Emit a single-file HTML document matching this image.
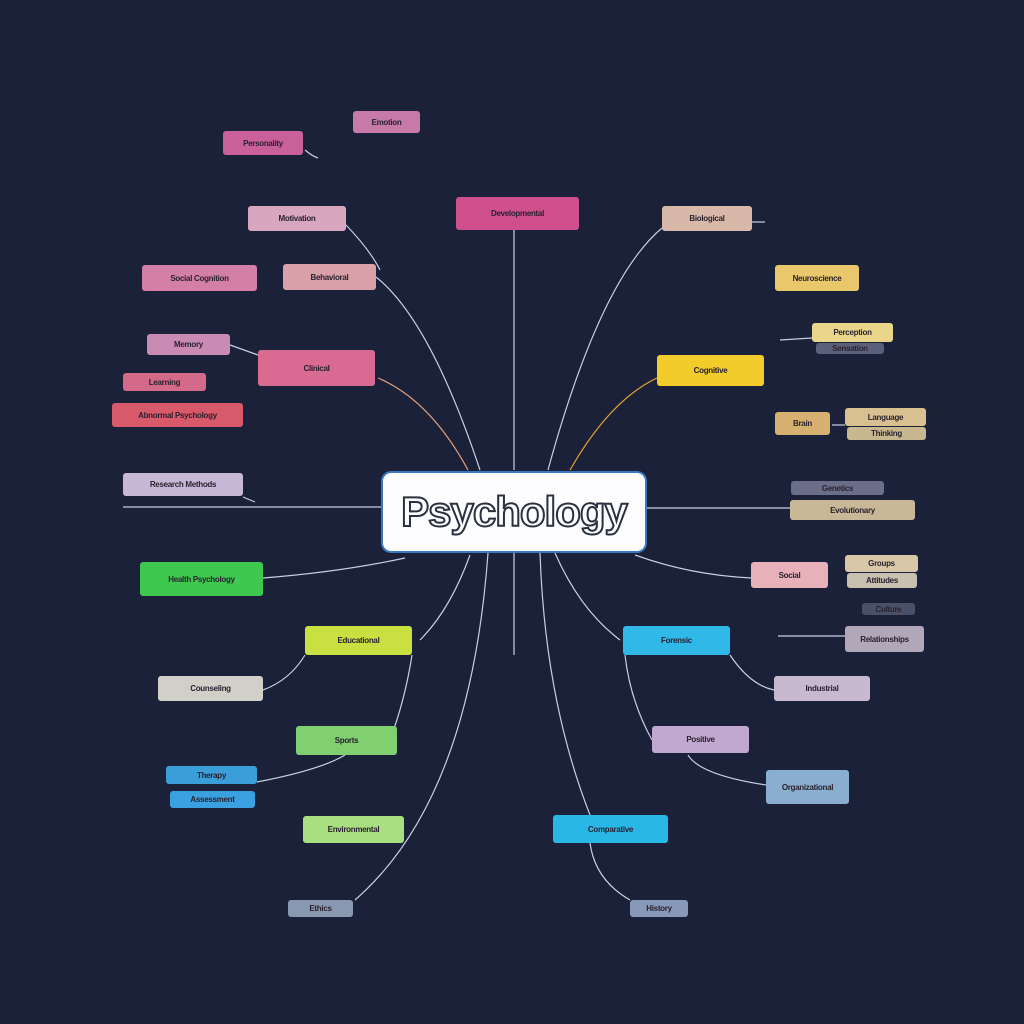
<!DOCTYPE html>
<html><head><meta charset="utf-8"><style>
html,body{margin:0;padding:0;width:1024px;height:1024px;overflow:hidden;background:#1a2139;}
.b{position:absolute;border-radius:3px;font-family:"Liberation Sans",sans-serif;font-size:8px;font-weight:bold;color:#2a2230;display:flex;align-items:center;justify-content:center;white-space:nowrap;overflow:hidden;letter-spacing:-0.3px;}
#c{position:absolute;left:383px;top:473px;width:262px;height:78px;background:#fdfdff;border-radius:8px;box-shadow:0 0 0 2px #3a78c0;display:flex;align-items:center;justify-content:center;font-family:"Liberation Sans",sans-serif;font-size:42px;font-weight:bold;color:#fff;-webkit-text-stroke:2px #2a3040;letter-spacing:-1px;}
svg{position:absolute;left:0;top:0;}
</style></head><body>
<svg width="1024" height="1024" fill="none" stroke="#c8d0e0" stroke-width="1.2">
<path d="M514 470 L514 230"/>
<path d="M480 470 Q430 320 376 277"/>
<path d="M468 470 Q430 400 378 378" stroke="#e0a080"/>
<path d="M570 470 Q610 400 657 378" stroke="#e0a030"/>
<path d="M548 470 Q600 280 662 228"/>
<path d="M346 225 Q370 250 380 270"/>
<path d="M305 150 Q312 156 318 158"/>
<path d="M230 345 L258 355"/>
<path d="M123 507 L383 507"/>
<path d="M243 497 L255 502"/>
<path d="M645 508 L790 508"/>
<path d="M263 578 Q340 572 405 558"/>
<path d="M635 555 Q690 575 751 578"/>
<path d="M420 640 Q450 610 470 555"/>
<path d="M263 690 Q290 680 305 655"/>
<path d="M390 740 Q405 700 412 655"/>
<path d="M257 782 Q320 770 345 755"/>
<path d="M355 900 Q470 800 488 553"/>
<path d="M514 553 L514 655"/>
<path d="M590 815 Q545 700 540 553"/>
<path d="M630 900 Q595 880 590 843"/>
<path d="M652 740 Q630 700 625 655"/>
<path d="M620 640 Q580 610 555 553"/>
<path d="M730 655 Q750 685 774 690"/>
<path d="M688 755 Q700 775 766 785"/>
<path d="M778 636 L845 636"/>
<path d="M780 340 L812 338"/>
<path d="M832 425 L845 425"/>
<path d="M752 222 L765 222"/>
</svg>
<div class="b" style="left:223px;top:131px;width:80px;height:24px;background:#c9609a">Personality</div>
<div class="b" style="left:353px;top:111px;width:67px;height:22px;background:#c77aa8">Emotion</div>
<div class="b" style="left:248px;top:206px;width:98px;height:25px;background:#d9a6c0">Motivation</div>
<div class="b" style="left:456px;top:197px;width:123px;height:33px;background:#cf4e8c">Developmental</div>
<div class="b" style="left:662px;top:206px;width:90px;height:25px;background:#d8b8a8">Biological</div>
<div class="b" style="left:142px;top:265px;width:115px;height:26px;background:#d47fa8">Social Cognition</div>
<div class="b" style="left:283px;top:264px;width:93px;height:26px;background:#d9a0a8">Behavioral</div>
<div class="b" style="left:775px;top:265px;width:84px;height:26px;background:#e8c86a">Neuroscience</div>
<div class="b" style="left:812px;top:323px;width:81px;height:19px;background:#ead68a">Perception</div>
<div class="b" style="left:816px;top:343px;width:68px;height:11px;background:#5a607a">Sensation</div>
<div class="b" style="left:147px;top:334px;width:83px;height:21px;background:#c98ab4">Memory</div>
<div class="b" style="left:258px;top:350px;width:117px;height:36px;background:#d96a92">Clinical</div>
<div class="b" style="left:657px;top:355px;width:107px;height:31px;background:#f2cc2a">Cognitive</div>
<div class="b" style="left:123px;top:373px;width:83px;height:18px;background:#d46a8a">Learning</div>
<div class="b" style="left:112px;top:403px;width:131px;height:24px;background:#d85a6a">Abnormal Psychology</div>
<div class="b" style="left:775px;top:412px;width:55px;height:23px;background:#d6b070">Brain</div>
<div class="b" style="left:845px;top:408px;width:81px;height:18px;background:#d8c090">Language</div>
<div class="b" style="left:847px;top:427px;width:79px;height:13px;background:#c8b890">Thinking</div>
<div class="b" style="left:123px;top:473px;width:120px;height:23px;background:#c8b8d8">Research Methods</div>
<div class="b" style="left:791px;top:481px;width:93px;height:14px;background:#6a6e88">Genetics</div>
<div class="b" style="left:790px;top:500px;width:125px;height:20px;background:#c8b898">Evolutionary</div>
<div class="b" style="left:140px;top:562px;width:123px;height:34px;background:#3ec850">Health Psychology</div>
<div class="b" style="left:751px;top:562px;width:77px;height:26px;background:#e8b0b8">Social</div>
<div class="b" style="left:845px;top:555px;width:73px;height:17px;background:#d8c8a8">Groups</div>
<div class="b" style="left:847px;top:573px;width:70px;height:15px;background:#c8c0b0">Attitudes</div>
<div class="b" style="left:862px;top:603px;width:53px;height:12px;background:#4a5068">Culture</div>
<div class="b" style="left:845px;top:626px;width:79px;height:26px;background:#b0a8b8">Relationships</div>
<div class="b" style="left:305px;top:626px;width:107px;height:29px;background:#c8e040">Educational</div>
<div class="b" style="left:623px;top:626px;width:107px;height:29px;background:#30b8e8">Forensic</div>
<div class="b" style="left:158px;top:676px;width:105px;height:25px;background:#d0d0c8">Counseling</div>
<div class="b" style="left:774px;top:676px;width:96px;height:25px;background:#c8b8d0">Industrial</div>
<div class="b" style="left:296px;top:726px;width:101px;height:29px;background:#80d070">Sports</div>
<div class="b" style="left:652px;top:726px;width:97px;height:27px;background:#c0a8d0">Positive</div>
<div class="b" style="left:166px;top:766px;width:91px;height:18px;background:#3a9ed8">Therapy</div>
<div class="b" style="left:170px;top:791px;width:85px;height:17px;background:#3aa0e0">Assessment</div>
<div class="b" style="left:766px;top:770px;width:83px;height:34px;background:#8aaed0">Organizational</div>
<div class="b" style="left:303px;top:816px;width:101px;height:27px;background:#a8e080">Environmental</div>
<div class="b" style="left:553px;top:815px;width:115px;height:28px;background:#28b8e8">Comparative</div>
<div class="b" style="left:288px;top:900px;width:65px;height:17px;background:#8898b0">Ethics</div>
<div class="b" style="left:630px;top:900px;width:58px;height:17px;background:#8898b8">History</div>
<div id="c">Psychology</div>
</body></html>
